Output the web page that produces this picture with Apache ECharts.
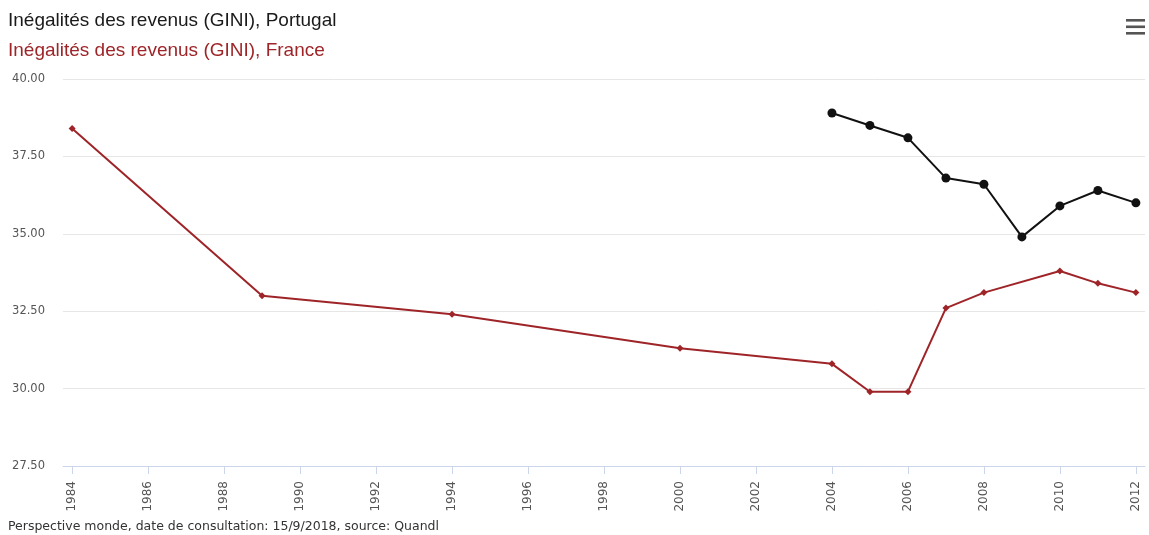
<!DOCTYPE html>
<html>
<head>
<meta charset="utf-8">
<title>Inégalités des revenus (GINI)</title>
<script src="https://cdn.jsdelivr.net/npm/echarts@6/dist/echarts.min.js"></script>
<style>
  html, body { margin: 0; padding: 0; background: #ffffff; }
  #chart { width: 1149px; height: 535px; }
</style>
</head>
<body>
<div id="chart"></div>
<script>
// Income inequality (GINI index) by year
const portugalYears = [2004, 2005, 2006, 2007, 2008, 2009, 2010, 2011, 2012];
const portugalGini  = [38.9, 38.5, 38.1, 36.8, 36.6, 34.9, 35.9, 36.4, 36.0];

const franceYears = [1984, 1989, 1994, 2000, 2004, 2005, 2006, 2007, 2008, 2010, 2011, 2012];
const franceGini  = [38.4, 33.0, 32.4, 31.3, 30.8, 29.9, 29.9, 32.6, 33.1, 33.8, 33.4, 33.1];

const yearTicks = [1984, 1986, 1988, 1990, 1992, 1994, 1996, 1998, 2000, 2002, 2004, 2006, 2008, 2010, 2012];

const portugalLabel = 'Inégalités des revenus (GINI), Portugal';
const franceLabel = 'Inégalités des revenus (GINI), France';
const sourceNote = 'Perspective monde, date de consultation: 15/9/2018, source: Quandl';

const pairs = (xs, ys) => xs.map((x, i) => [x, ys[i]]);

const chart = echarts.init(document.getElementById('chart'), null, { renderer: 'canvas' });

chart.setOption({
  animation: false,
  backgroundColor: '#ffffff',
  textStyle: { fontFamily: 'Liberation Sans, Arial, sans-serif' },
  title: [
    {
      text: portugalLabel,
      left: 8, top: 11, padding: 0,
      textStyle: { color: '#1a1a1a', fontSize: 19, fontWeight: 'normal', fontFamily: 'Liberation Sans, Arial, sans-serif' }
    },
    {
      text: franceLabel,
      left: 8, top: 41, padding: 0,
      textStyle: { color: '#9e2428', fontSize: 19, fontWeight: 'normal', fontFamily: 'Liberation Sans, Arial, sans-serif' }
    },
    {
      text: sourceNote,
      left: 8, top: 520, padding: 0,
      textStyle: { color: '#333333', fontSize: 12.5, fontWeight: 'normal', fontFamily: 'DejaVu Sans, Verdana, sans-serif' }
    }
  ],
  graphic: [
    { type: 'rect', shape: { x: 1126, y: 19, width: 19, height: 2.6 }, style: { fill: '#555555' } },
    { type: 'rect', shape: { x: 1126, y: 25.5, width: 19, height: 2.6 }, style: { fill: '#555555' } },
    { type: 'rect', shape: { x: 1126, y: 32, width: 19, height: 2.6 }, style: { fill: '#555555' } }
  ],
  grid: { left: 63, right: 4, top: 79, bottom: 69 },
  xAxis: {
    type: 'value',
    min: 1983.76,
    max: 2012.24,
    axisLine: { show: true, lineStyle: { color: '#ccd6eb', width: 1 } },
    axisTick: {
      show: true, length: 8,
      customValues: yearTicks,
      lineStyle: { color: '#ccd6eb', width: 1 }
    },
    axisLabel: {
      customValues: yearTicks,
      rotate: 90,
      margin: 15,
      color: '#555555',
      fontSize: 12,
      fontFamily: 'DejaVu Sans, Verdana, sans-serif',
      formatter: v => String(v)
    },
    splitLine: { show: false }
  },
  yAxis: {
    type: 'value',
    min: 27.5,
    max: 40,
    interval: 2.5,
    axisLine: { show: false },
    axisTick: { show: false },
    axisLabel: {
      margin: 18,
      color: '#555555',
      fontSize: 11.5,
      fontFamily: 'DejaVu Sans, Verdana, sans-serif',
      formatter: v => v.toFixed(2)
    },
    splitLine: { show: true, lineStyle: { color: '#e6e6e6', width: 1 } }
  },
  series: [
    {
      name: portugalLabel,
      type: 'line',
      data: pairs(portugalYears, portugalGini),
      symbol: 'circle',
      symbolSize: 9,
      showAllSymbol: true,
      lineStyle: { color: '#111111', width: 2 },
      itemStyle: { color: '#111111' }
    },
    {
      name: franceLabel,
      type: 'line',
      data: pairs(franceYears, franceGini),
      symbol: 'diamond',
      symbolSize: 7,
      showAllSymbol: true,
      lineStyle: { color: '#9e2428', width: 2 },
      itemStyle: { color: '#9e2428' }
    }
  ]
});
</script>
</body>
</html>
